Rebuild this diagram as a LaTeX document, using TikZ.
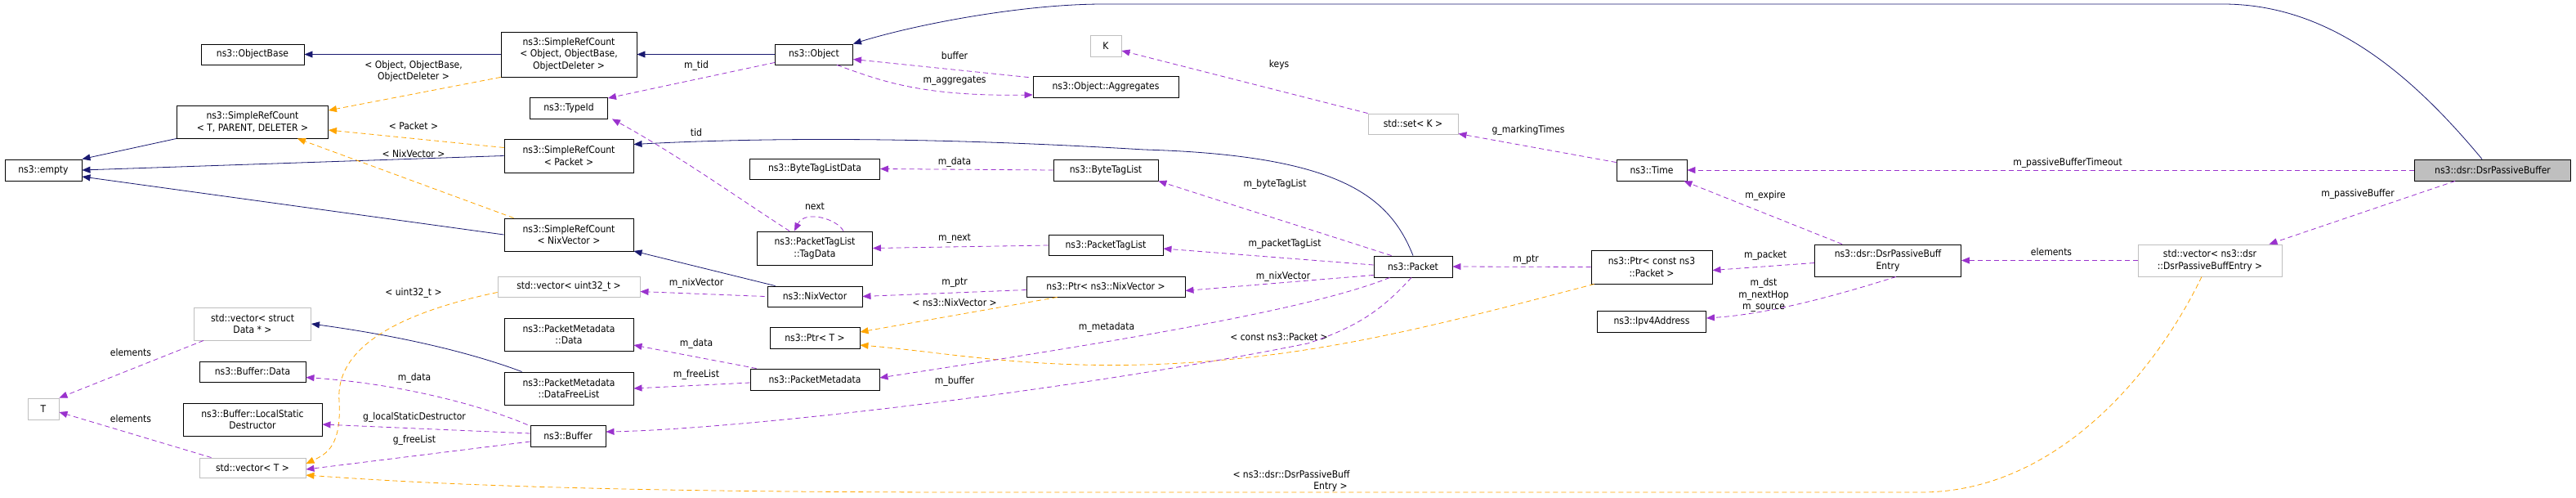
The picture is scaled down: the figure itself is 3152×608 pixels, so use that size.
\documentclass[tikz,border=0pt]{standalone}
\usepackage{fontspec}
\setmainfont{DejaVu Sans Condensed}
\usetikzlibrary{arrows.meta,calc}
\definecolor{navy}{RGB}{25,25,112}
\definecolor{tmpl}{RGB}{255,165,0}
\definecolor{usec}{RGB}{154,50,205}
\definecolor{gbord}{RGB}{191,191,191}
\begin{document}
\begin{tikzpicture}[x=1pt,y=-1pt,
  font=\fontsize{12}{14.5}\selectfont,
  box/.style 2 args={draw=black,line width=0.9pt,minimum width=#1,minimum height=#2,align=center,inner sep=1pt},
  gbox/.style 2 args={box={#1}{#2},draw=gbord},
  tip/.style={-{Triangle[length=10pt,width=8pt]}},
  inh/.style={tip,draw=navy,fill=none,line width=0.8pt,-{Triangle[length=10pt,width=8pt,fill=navy]}},
  tm/.style={draw=tmpl,dashed,dash pattern=on 6pt off 4pt,line width=0.8pt,-{Triangle[length=10pt,width=8pt,fill=tmpl]}},
  us/.style={draw=usec,dashed,dash pattern=on 6pt off 4pt,line width=0.8pt,-{Triangle[length=10pt,width=8pt,fill=usec]}},
  lbl/.style={align=center,inner sep=0pt}]
\useasboundingbox (0,0) rectangle (3152,608);
% nodes
\node[box={126}{25}] (ob) at (309,66.5) {ns3::ObjectBase};
\node[box={166}{55}] (srco) at (696,66.5) {ns3::SimpleRefCount\\< Object, ObjectBase,\\ObjectDeleter >};
\node[box={185}{40}] (srct) at (309,149) {ns3::SimpleRefCount\\< T, PARENT, DELETER >};
\node[box={94}{26}] (empty) at (53,208) {ns3::empty};
\node[box={95}{26}] (tid) at (696,132) {ns3::TypeId};
\node[box={158}{41}] (srcp) at (696,190.5) {ns3::SimpleRefCount\\< Packet >};
\node[box={158}{40}] (srcn) at (696,287) {ns3::SimpleRefCount\\< NixVector >};
\node[gbox={174}{25}] (vu) at (696,350.5) {std::vector< uint32\_t >};
\node[gbox={143}{40}] (vd) at (309,396) {std::vector< struct\\Data * >};
\node[box={158}{40}] (pmd) at (696,409) {ns3::PacketMetadata\\::Data};
\node[box={130}{25}] (bd) at (309,454.5) {ns3::Buffer::Data};
\node[box={158}{40}] (dfl) at (696,475) {ns3::PacketMetadata\\::DataFreeList};
\node[gbox={38}{26}] (T) at (53,500) {T};
\node[box={170}{40}] (lsd) at (309,513) {ns3::Buffer::LocalStatic\\Destructor};
\node[box={92}{26}] (buf) at (695,533) {ns3::Buffer};
\node[gbox={130}{24}] (vt) at (309,572) {std::vector< T >};
\node[box={95}{25}] (obj) at (996,66.5) {ns3::Object};
\node[gbox={38}{26}] (K) at (1353,56) {K};
\node[box={178}{26}] (agg) at (1353,106) {ns3::Object::Aggregates};
\node[box={159}{25}] (btld) at (997,206.5) {ns3::ByteTagListData};
\node[box={128}{26}] (btl) at (1353,208) {ns3::ByteTagList};
\node[box={141}{41}] (td) at (997,303.5) {ns3::PacketTagList\\::TagData};
\node[box={140}{25}] (ptl) at (1353,300) {ns3::PacketTagList};
\node[box={116}{25}] (nix) at (997,362.5) {ns3::NixVector};
\node[box={194}{25}] (pnix) at (1353,350.5) {ns3::Ptr< ns3::NixVector >};
\node[box={110}{26}] (pt) at (997,413) {ns3::Ptr< T >};
\node[box={158}{26}] (pm) at (997,464) {ns3::PacketMetadata};
\node[gbox={110}{25}] (setk) at (1729,151.5) {std::set< K >};
\node[box={86}{26}] (time) at (2021,208) {ns3::Time};
\node[box={96}{26}] (pkt) at (1729,326) {ns3::Packet};
\node[box={148}{41}] (pcp) at (2021,326.5) {ns3::Ptr< const ns3\\::Packet >};
\node[box={179}{39}] (ent) at (2310,318.5) {ns3::dsr::DsrPassiveBuff\\Entry};
\node[box={133}{26}] (ip) at (2021,393) {ns3::Ipv4Address};
\node[box={191}{26},fill={rgb,255:red,191;green,191;blue,191}] (dpb) at (3050,208) {ns3::dsr::DsrPassiveBuffer};
\node[gbox={176}{39}] (vent) at (2704,318.5) {std::vector< ns3::dsr\\::DsrPassiveBuffEntry >};
% inheritance
\draw[inh] (srco.west) -- (ob.east);
\draw[inh] (obj.west) -- (srco.east);
\draw[inh] (srct.south west) -- (empty.north east);
\draw[inh] (srcp.west) -- (empty.east);
\draw[inh] (srcn.west) -- ($(empty.east)+(0,8)$);
\draw[inh] (pkt.north) .. controls (1700,240) and (1640,190) .. (1400,183) .. controls (1100,165) and (900,170) .. ($(srcp.east)+(0,-14)$);
\draw[inh] ($(nix.north west)+(10,0)$) -- ($(srcn.east)+(0,20)$);
\draw[inh] ($(dpb.north)+(-13,0)$) .. controls (2950,90) and (2850,5) .. (2720,5) -- (1350,5) .. controls (1250,5) and (1120,30) .. (obj.north east);
\draw[inh] ($(dfl.north west)+(22,0)$) .. controls (600,440) and (520,415) .. (vd.east);
% template
\draw[tm] (srco.south west) -- ($(srct.east)+(0,-14)$);
\node[lbl] at (506,87) {< Object, ObjectBase,\\ObjectDeleter >};
\draw[tm] ($(srcp.west)+(0,-10)$) -- ($(srct.east)+(0,10)$);
\node[lbl] at (506,154) {< Packet >};
\draw[tm] ($(srcn.north west)+(12,0)$) -- ($(srct.south east)+(-38,0)$);
\node[lbl] at (506,188) {< NixVector >};
\draw[tm] ($(vu.west)+(0,7)$) .. controls (500,380) and (410,420) .. (415,490) .. controls (418,545) and (400,555) .. ($(vt.east)+(0,-5)$);
\node[lbl] at (506,358) {< uint32\_t >};
\draw[tm] ($(pnix.south west)+(38,0)$) -- ($(pt.east)+(0,-7)$);
\node[lbl] at (1168,370) {< ns3::NixVector >};
\draw[tm] ($(pcp.south west)+(4,0)$) .. controls (1750,400) and (1600,440) .. (1400,446) .. controls (1250,450) and (1150,430) .. ($(pt.east)+(0,9)$);
\node[lbl] at (1565,412) {< const ns3::Packet >};
\draw[tm] ($(vent.south)+(-10,0)$) .. controls (2640,450) and (2520,602) .. (2350,602) -- (1200,602) .. controls (700,602) and (500,590) .. ($(vt.east)+(0,9)$);
\node[lbl] at (1580,588) {< ns3::dsr::DsrPassiveBuff\\\hspace*{8em}Entry >};
% usage
\draw[us] ($(obj.south west)+(0,-3)$) -- ($(tid.east)+(0,-12)$);
\node[lbl] at (852,80) {m\_tid};
\draw[us] ($(td.north west)+(40,0)$) .. controls (900,240) and (830,190) .. ($(tid.south east)+(5,0)$);
\node[lbl] at (852,162) {tid};
\draw[us] ($(agg.north west)+(-5,2)$) -- ($(obj.east)+(0,6)$);
\node[lbl] at (1168,68) {buffer};
\draw[us] ($(obj.south)+(28,0)$) .. controls (1080,100) and (1130,118) .. ($(agg.west)+(0,10)$);
\node[lbl] at (1168,99) {m\_aggregates};
\draw[us] (setk.north west) -- ($(K.east)+(0,6)$);
\node[lbl] at (1565,79) {keys};
\draw[us] ($(time.north west)+(0,4)$) -- ($(setk.east)+(0,12)$);
\node[lbl] at (1870,159) {g\_markingTimes};
\draw[us] (dpb.west) -- (time.east);
\node[lbl] at (2530,199) {m\_passiveBufferTimeout};
\draw[us] ($(ent.north west)+(34,0)$) -- ($(time.south east)+(-4,0)$);
\node[lbl] at (2160,239) {m\_expire};
\draw[us] ($(ent.west)+(0,3)$) -- ($(pcp.east)+(0,4)$);
\node[lbl] at (2160,312) {m\_packet};
\draw[us] ($(ent.south)+(10,0)$) .. controls (2220,370) and (2150,385) .. ($(ip.east)+(0,-4)$);
\node[lbl] at (2158,361) {m\_dst\\m\_nextHop\\m\_source};
\draw[us] (vent.west) -- (ent.east);
\node[lbl] at (2510,308) {elements};
\draw[us] ($(dpb.south west)+(50,0)$) -- ($(vent.north east)+(-16,0)$);
\node[lbl] at (2885,237) {m\_passiveBuffer};
\draw[us] (pcp.west) -- (pkt.east);
\node[lbl] at (1867,318) {m\_ptr};
\draw[us] (btl.west) -- (btld.east);
\node[lbl] at (1168,198) {m\_data};
\draw[us] ($(pkt.north west)+(22,0)$) -- (btl.south east);
\node[lbl] at (1560,225) {m\_byteTagList};
\draw[us] (ptl.west) -- (td.east);
\node[lbl] at (1168,292) {m\_next};
\draw[us] ($(pkt.west)+(0,-2)$) -- ($(ptl.east)+(0,4)$);
\node[lbl] at (1572,298) {m\_packetTagList};
\draw[us] ($(td.north east)+(-36,0)$) .. controls (1025,268) and (985,256) .. ($(td.north)+(-25,0)$);
\node[lbl] at (997,252) {next};
\draw[us] ($(pnix.west)+(0,4)$) -- (nix.east);
\node[lbl] at (1168,346) {m\_ptr};
\draw[us] ($(pkt.south west)+(0,-3)$) -- ($(pnix.east)+(0,5)$);
\node[lbl] at (1570,338) {m\_nixVector};
\draw[us] ($(nix.west)+(-3,0)$) -- ($(vu.east)+(0,6)$);
\node[lbl] at (852,346) {m\_nixVector};
\draw[us] ($(pkt.south west)+(20,0)$) .. controls (1600,380) and (1350,420) .. ($(pm.east)+(0,-2)$);
\node[lbl] at (1354,400) {m\_metadata};
\draw[us] ($(pkt.south)+(-2,0)$) .. controls (1690,380) and (1660,400) .. (1600,420) .. controls (1300,480) and (900,525) .. ($(buf.east)+(0,-5)$);
\node[lbl] at (1168,466) {m\_buffer};
\draw[us] ($(pm.north west)+(8,0)$) -- ($(pmd.east)+(0,13)$);
\node[lbl] at (852,420) {m\_data};
\draw[us] ($(pm.west)+(0,4)$) -- ($(dfl.east)+(0,0)$);
\node[lbl] at (852,458) {m\_freeList};
\draw[us] ($(buf.north west)+(-3,0)$) .. controls (600,500) and (500,470) .. ($(bd.east)+(0,7)$);
\node[lbl] at (507,462) {m\_data};
\draw[us] ($(buf.west)+(0,-3)$) -- ($(lsd.east)+(0,6)$);
\node[lbl] at (507,510) {g\_localStaticDestructor};
\draw[us] ($(buf.west)+(0,7)$) -- ($(vt.east)+(0,2)$);
\node[lbl] at (507,538) {g\_freeList};
\draw[us] ($(vd.south west)+(12,0)$) -- (T.north east);
\node[lbl] at (160,431) {elements};
\draw[us] ($(vt.north west)+(15,0)$) -- ($(T.east)+(0,4)$);
\node[lbl] at (160,512) {elements};
\end{tikzpicture}
\end{document}
